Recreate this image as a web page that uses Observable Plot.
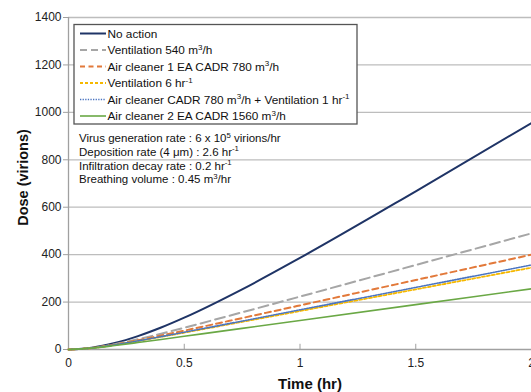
<!DOCTYPE html>
<html>
<head>
<meta charset="utf-8">
<script src="https://cdn.jsdelivr.net/npm/d3@7"></script>
<script src="https://cdn.jsdelivr.net/npm/@observablehq/plot@0.6"></script>
<style>
  html, body { margin: 0; padding: 0; background: #fff; }
  #chart { width: 531px; height: 392px; overflow: hidden; }
  svg { font-family: "Liberation Sans", Arial, sans-serif; }
</style>
</head>
<body>
<div id="chart"></div>
<script>
// ---- data ----
const time = [0, 0.1, 0.2, 0.3, 0.4, 0.5, 0.75, 1, 1.5, 2];
const noAction        = [0, 7.4, 27.2, 56.4, 92.6, 134.2, 253.7, 386.1, 667.1, 955];
const vent540         = [0, 6.7, 22.5, 43.3, 66.8, 91.7, 156.8, 223.1, 356.3, 489.7];
const cleaner1        = [0, 6.4, 20.8, 38.9, 58.8, 79.5, 132.5, 185.9, 293.0, 400.0];
const vent6           = [0, 6.2, 19.5, 35.7, 53.2, 71.1, 116.6, 162.3, 253.7, 345.1];
const cleanerVent     = [0, 6.2, 19.8, 36.4, 54.4, 72.9, 119.9, 167.2, 261.8, 356.4];
const cleaner2        = [0, 5.6, 16.7, 29.4, 42.5, 55.8, 89.1, 122.5, 189.2, 255.9];

const xTicks = [0, 0.5, 1, 1.5, 2];
const yTicks = [0, 200, 400, 600, 800, 1000, 1200, 1400];

// legend labels: parts, {s: "..."} = superscript
const legendLabels = [
  ["No action"],
  ["Ventilation 540 m", {s: "3"}, "/h"],
  ["Air cleaner 1 EA CADR 780 m", {s: "3"}, "/h"],
  ["Ventilation 6 hr", {s: "-1"}],
  ["Air cleaner CADR 780 m", {s: "3"}, "/h + Ventilation 1 hr", {s: "-1"}],
  ["Air cleaner 2 EA CADR 1560 m", {s: "3"}, "/h"]
];
const notes = [
  ["Virus generation rate : 6 x 10", {s: "5"}, " virions/hr"],
  ["Deposition rate (4 \u03bcm) : 2.6 hr", {s: "-1"}],
  ["Infiltration decay rate : 0.2 hr", {s: "-1"}],
  ["Breathing volume : 0.45 m", {s: "3"}, "/hr"]
];

// ---- styles ----
const styles = [
  {stroke: "#1f3466", width: 2.0, dash: null, legendDash: null},
  {stroke: "#a6a6a6", width: 2.0, dash: "10,5", legendDash: "7,4"},
  {stroke: "#e2793a", width: 2.0, dash: "6,4", legendDash: "5,3.5"},
  {stroke: "#f5b800", width: 1.8, dash: "3,2", legendDash: "3,2"},
  {stroke: "#4a74c0", width: 1.6, dash: "1.3,1.3", legendDash: "1.3,1.3"},
  {stroke: "#6aa845", width: 1.6, dash: null, legendDash: null}
];
const seriesValues = [noAction, vent540, cleaner1, vent6, cleanerVent, cleaner2];

const lineMarks = seriesValues.map((vals, i) => {
  const rows = time.map((t, j) => ({t, v: vals[j]}));
  const st = styles[i];
  return Plot.line(rows, {
    x: "t", y: "v", stroke: st.stroke, strokeWidth: st.width,
    strokeDasharray: st.dash || undefined, curve: "monotone-x"
  });
});

const chart = Plot.plot({
  width: 531,
  height: 392,
  marginLeft: 68,
  marginRight: 0,
  marginTop: 17,
  marginBottom: 43,
  style: {fontFamily: "'Liberation Sans', Arial, sans-serif", fontSize: "12px", background: "#fff", overflow: "visible"},
  x: {domain: [0, 2], ticks: xTicks, tickFormat: d => String(d), label: null},
  y: {domain: [0, 1400], ticks: yTicks, tickFormat: d => String(d), label: null},
  marks: [
    Plot.gridY(yTicks.filter(d => d > 0), {stroke: "#bdbdbd", strokeOpacity: 1, strokeWidth: 1.3}),
    Plot.ruleX([0], {stroke: "#a0a0a0", strokeWidth: 1.3}),
    Plot.ruleY([0], {stroke: "#a0a0a0", strokeWidth: 1.3}),
    Plot.ruleX(xTicks.filter(d => d > 0 && d < 2), {x: d => d, y1: 0, y2: 22, stroke: "#a0a0a0", strokeWidth: 1}),
    Plot.axisY({ticks: yTicks, tickSize: 5, tickPadding: 2, fontSize: 12, stroke: "#a0a0a0", fill: "#222", label: null, tickFormat: d => String(d)}),
    Plot.axisX({ticks: xTicks, tickSize: 0, tickPadding: 9, fontSize: 12, fill: "#222", label: null, tickFormat: d => String(d)}),
    ...lineMarks
  ]
});

document.getElementById("chart").appendChild(chart);

// ---- legend, notes, axis titles ----
const svg = d3.select(chart);
const font = "'Liberation Sans', Arial, sans-serif";
const SHIFT = 4.5;

function writeParts(textSel, parts, size) {
  let pendingDown = false;
  parts.forEach(p => {
    if (typeof p === "string") {
      const ts = textSel.append("tspan").attr("font-size", size).text(p);
      if (pendingDown) { ts.attr("dy", SHIFT); pendingDown = false; }
    } else {
      textSel.append("tspan").attr("dy", -SHIFT).attr("font-size", size * 0.68).text(p.s);
      pendingDown = true;
    }
  });
}

const lg = svg.append("g").attr("text-anchor", "start");
lg.append("rect")
  .attr("x", 74).attr("y", 24.5).attr("width", 283).attr("height", 99.5)
  .attr("fill", "#fff").attr("stroke", "#555").attr("stroke-width", 1.3);

legendLabels.forEach((parts, i) => {
  const cy = 33.5 + i * 16.5;
  const st = styles[i];
  lg.append("line")
    .attr("x1", 80).attr("x2", 106).attr("y1", cy).attr("y2", cy)
    .attr("stroke", st.stroke).attr("stroke-width", st.width)
    .attr("stroke-dasharray", st.legendDash);
  const t = lg.append("text")
    .attr("x", 107.5).attr("y", cy + 4.3).attr("text-anchor", "start")
    .attr("font-family", font).attr("font-size", 11.8).attr("fill", "#111");
  writeParts(t, parts, 11.8);
});

const ng = svg.append("g").attr("text-anchor", "start");
notes.forEach((parts, i) => {
  const cy = 138 + i * 13.7;
  const t = ng.append("text")
    .attr("x", 79).attr("y", cy + 4.2).attr("text-anchor", "start")
    .attr("font-family", font).attr("font-size", 11.5).attr("fill", "#111");
  writeParts(t, parts, 11.5);
});

svg.append("text")
  .attr("transform", "translate(27.5,177.5) rotate(-90)")
  .attr("text-anchor", "middle")
  .attr("font-family", font).attr("font-size", 14.5).attr("font-weight", "bold").attr("fill", "#111")
  .text("Dose (virions)");

svg.append("text")
  .attr("x", 310).attr("y", 389)
  .attr("text-anchor", "middle")
  .attr("font-family", font).attr("font-size", 15).attr("font-weight", "bold").attr("fill", "#111")
  .text("Time (hr)");
</script>
</body>
</html>
